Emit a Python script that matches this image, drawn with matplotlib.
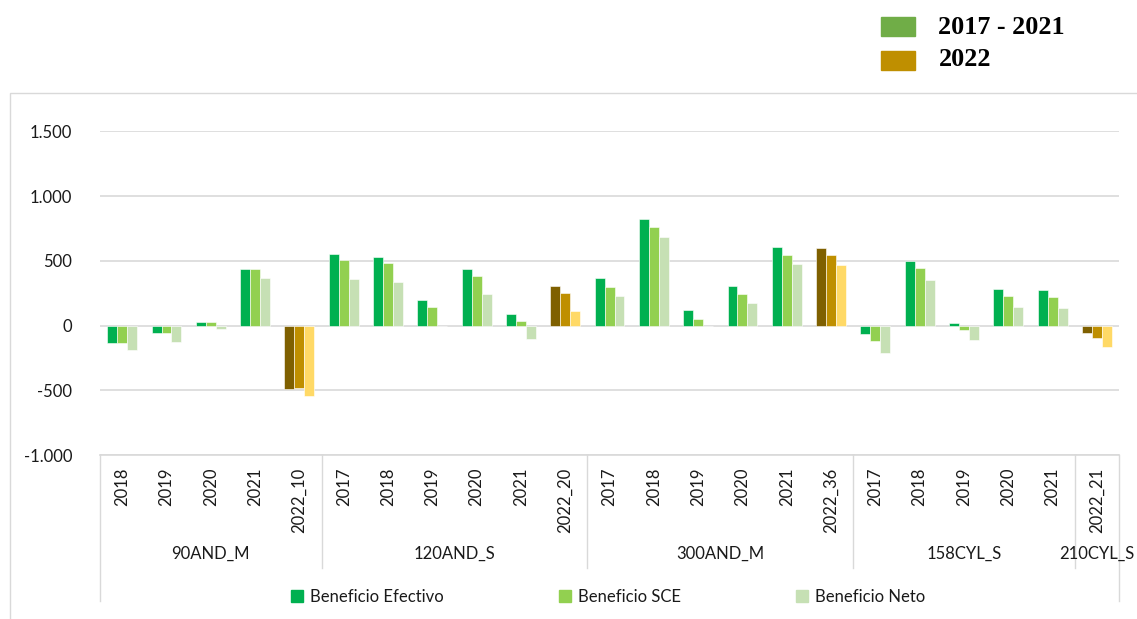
import matplotlib as mpl
mpl.use('Agg')
import matplotlib.pyplot as plt
from matplotlib.patches import Rectangle, Patch
import numpy as np

# categorias (año) y grupos
categorias = ['2018', '2019', '2020', '2021', '2022_10',
              '2017', '2018', '2019', '2020', '2021', '2022_20',
              '2017', '2018', '2019', '2020', '2021', '2022_36',
              '2017', '2018', '2019', '2020', '2021',
              '2022_21']
grupos = ['90AND_M', '120AND_S', '300AND_M', '158CYL_S', '210CYL_S']
tam_grupos = [5, 6, 6, 5, 1]

efectivo = [-136, -61, 28, 436, -487,
            554, 531, 198, 438, 87, 305,
            364, 823, 121, 305, 605, 598,
            -64, 500, 18, 282, 277,
            -54]
sce = [-136, -61, 28, 436, -484,
       503, 480, 146, 380, 36, 251,
       300, 759, 52, 244, 546, 544,
       -123, 444, -31, 231, 223,
       -100]
neto = [-192, -125, -28, 367, -546,
        359, 336, -5, 244, -102, 113,
        226, 685, -5, 174, 474, 467,
        -210, 351, -113, 144, 133,
        -169]

yticks = [-1000, -500, 0, 500, 1000, 1500]
ylabels = ['-1.000', '-500', '0', '500', '1.000', '1.500']

verdes = ['#00B050', '#92D050', '#C6E0B4']
dorados = ['#7F6000', '#BF8F00', '#FFD966']

plt.rcParams['font.family'] = ['Lato', 'DejaVu Sans']
fig = plt.figure(figsize=(11.37, 6.19), dpi=100)
ax = fig.add_axes([0.088, 0.2649, 0.8962, 0.523])

x = np.arange(len(categorias))
w = 0.225
series = [efectivo, sce, neto]
nombres = ['Beneficio Efectivo', 'Beneficio SCE', 'Beneficio Neto']
for k in range(3):
    cols = [dorados[k] if c.startswith('2022') else verdes[k] for c in categorias]
    ax.bar(x + (k - 1) * w, series[k], w, color=cols, edgecolor='white', linewidth=0.4, zorder=3)

ax.set_xlim(-0.5, len(categorias) - 0.5)
ax.set_ylim(-1000, 1500)
ax.set_yticks(yticks)
ax.set_yticklabels(ylabels, fontsize=12, color='#1a1a1a')
ax.tick_params(axis='y', length=0, pad=20)
ax.set_xticks([])
ax.grid(axis='y', color='#D9D9D9', linewidth=1.2, zorder=0)
for s in ax.spines.values():
    s.set_visible(False)

# tabla de categorias bajo el eje
tr = ax.get_xaxis_transform()
ax.plot([-0.5, len(categorias) - 0.5], [0, 0], transform=tr, color='#D9D9D9', lw=1.2, clip_on=False)
for i, c in enumerate(categorias):
    ax.text(i, -0.04, c, transform=tr, rotation=90, ha='center', va='top', fontsize=12, color='#1a1a1a')
inicio = 0
for g, n in zip(grupos, tam_grupos):
    centro = inicio + (n - 1) / 2
    ax.text(centro, -0.305, g, transform=tr, ha='center', va='center', fontsize=12, color='#1a1a1a')
    inicio += n
    if inicio < len(categorias):
        ax.plot([inicio - 0.5] * 2, [0, -0.35], transform=tr, color='#D9D9D9', lw=1, clip_on=False)
for xe in [-0.5, len(categorias) - 0.5]:
    ax.plot([xe, xe], [0, -0.45], transform=tr, color='#D9D9D9', lw=1, clip_on=False)

# marco exterior
fig.add_artist(Rectangle((10 / 1137, -0.05), 1.2, 1 - 93 / 619 + 0.05, transform=fig.transFigure,
                         fill=False, edgecolor='#D9D9D9', lw=1))

# leyenda inferior
handles = [Patch(color=verdes[k]) for k in range(3)]
fig.legend(handles, nombres, loc='center', bbox_to_anchor=(0.535, 1 - 597 / 619), ncol=3, frameon=False,
           fontsize=12, handlelength=0.7, handleheight=0.7, handletextpad=0.45, columnspacing=6.9,
           labelcolor='#1a1a1a')

# leyenda superior de periodos
fig.add_artist(Rectangle((881 / 1137, 1 - 36 / 619), 34 / 1137, 19 / 619, transform=fig.transFigure,
                         color='#70AD47'))
fig.add_artist(Rectangle((881 / 1137, 1 - 70 / 619), 34 / 1137, 19 / 619, transform=fig.transFigure,
                         color='#BF8F00'))
fig.text(938 / 1137, 1 - 27 / 619, '2017 - 2021', family='Liberation Serif', weight='bold', fontsize=18.8,
         va='center', ha='left')
fig.text(939 / 1137, 1 - 60 / 619, '2022', family='Liberation Serif', weight='bold', fontsize=18.8,
         va='center', ha='left')

fig.savefig('out.png', dpi=100)
